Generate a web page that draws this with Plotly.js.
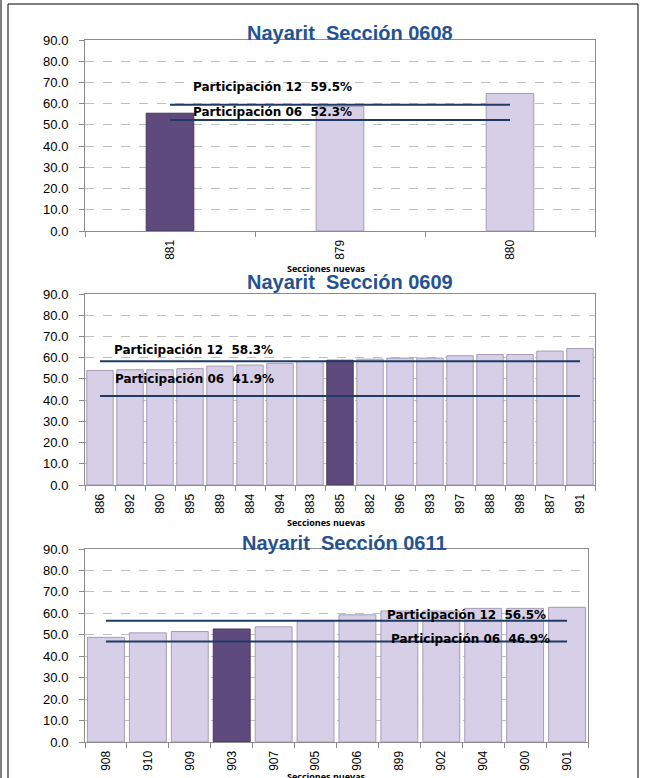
<!DOCTYPE html>
<html>
<head>
<meta charset="utf-8">
<script src="https://cdn.plot.ly/plotly-3.0.1.min.js"></script>
<style>
  html, body { margin: 0; padding: 0; background: #ffffff; }
  #chart { width: 646px; height: 778px; }
</style>
</head>
<body>
<div id="chart"></div>
<script>
// ---------- DATA ----------
const titles = ['Nayarit  Sección 0608', 'Nayarit  Sección 0609', 'Nayarit  Sección 0611'];
const xAxisTitle = 'Secciones nuevas';

const cats0608 = ['881', '879', '880'];
const vals0608 = [55.5, 58.7, 64.8];
const highlight0608 = '881';
const part12_0608 = 59.5;
const part06_0608 = 52.3;

const cats0609 = ['886', '892', '890', '895', '889', '884', '894', '883', '885', '882', '896', '893', '897', '888', '898', '887', '891'];
const vals0609 = [54.0, 54.3, 54.3, 54.8, 56.0, 56.5, 57.3, 58.2, 58.8, 59.3, 59.8, 59.8, 60.9, 61.5, 61.5, 63.1, 64.3];
const highlight0609 = '885';
const part12_0609 = 58.3;
const part06_0609 = 41.9;

const cats0611 = ['908', '910', '909', '903', '907', '905', '906', '899', '902', '904', '900', '901'];
const vals0611 = [48.8, 50.9, 51.5, 52.7, 53.7, 56.4, 59.3, 61.1, 61.1, 62.3, 62.3, 62.8];
const highlight0611 = '903';
const part12_0611 = 56.5;
const part06_0611 = 46.9;

const yTickVals = [0, 10, 20, 30, 40, 50, 60, 70, 80, 90];

// ---------- LAYOUT HELPERS (pixel -> paper) ----------
const W = 646, H = 778;
const fx = x => x / W;
const fy = y => 1 - y / H;

const charts = [
  { cats: cats0608, vals: vals0608, hi: highlight0608, p12: part12_0608, p06: part06_0608,
    box: { l: 85, r: 595, t: 40, b: 231 }, gap: 0.72,
    titleXY: [350, 33], axTitleXY: [326, 268],
    lab12: [191, 87], lab06: [191, 112] },
  { cats: cats0609, vals: vals0609, hi: highlight0609, p12: part12_0609, p06: part06_0609,
    box: { l: 85, r: 595, t: 294, b: 485 }, gap: 0.12,
    titleXY: [350, 282], axTitleXY: [326, 522],
    lab12: [112, 350], lab06: [113, 379] },
  { cats: cats0611, vals: vals0611, hi: highlight0611, p12: part12_0611, p06: part06_0611,
    box: { l: 85, r: 588, t: 549, b: 742 }, gap: 0.12,
    titleXY: [345, 543], axTitleXY: [326, 776],
    lab12: [385, 615], lab06: [389, 639] }
];

const LIGHT = '#D7CFE7';
const DARK = '#5F4A7D';
const LINE = '#1F3A64';
const LABEL_FONT = 'DejaVu Sans, Open Sans, sans-serif';

const traces = [];
const layout = {
  width: W, height: H,
  margin: { l: 0, r: 0, t: 0, b: 0 },
  paper_bgcolor: '#ffffff',
  plot_bgcolor: '#ffffff',
  showlegend: false,
  font: { family: 'Liberation Sans, Arial, sans-serif', size: 11, color: '#000000' },
  annotations: [],
  shapes: [
    { type: 'line', xref: 'paper', yref: 'paper', x0: fx(1), x1: fx(1), y0: -0.01, y1: 1.01,
      line: { color: '#000000', width: 1 } },
    { type: 'rect', xref: 'paper', yref: 'paper', x0: fx(8), x1: fx(638), y0: -0.01, y1: fy(4),
      line: { color: '#000000', width: 1 } }
  ]
};

charts.forEach((c, i) => {
  const n = i + 1;
  const xa = 'x' + (n === 1 ? '' : n);
  const ya = 'y' + (n === 1 ? '' : n);
  const xKey = 'xaxis' + (n === 1 ? '' : n);
  const yKey = 'yaxis' + (n === 1 ? '' : n);

  traces.push({
    type: 'bar', x: c.cats, y: c.vals, xaxis: xa, yaxis: ya,
    width: 1 - c.gap,
    marker: {
      color: c.cats.map(k => k === c.hi ? DARK : LIGHT),
      line: { color: c.cats.map(k => k === c.hi ? '#46375E' : '#A59DB6'), width: 1 }
    },
    hoverinfo: 'x+y'
  });
  const first = c.cats[0], last = c.cats[c.cats.length - 1];
  traces.push({ type: 'scatter', mode: 'lines', x: [first, last], y: [c.p12, c.p12],
    xaxis: xa, yaxis: ya, line: { color: LINE, width: 2 }, hoverinfo: 'skip' });
  traces.push({ type: 'scatter', mode: 'lines', x: [first, last], y: [c.p06, c.p06],
    xaxis: xa, yaxis: ya, line: { color: LINE, width: 2 }, hoverinfo: 'skip' });

  layout[xKey] = {
    domain: [fx(c.box.l), fx(c.box.r)],
    anchor: ya,
    type: 'category',
    categoryorder: 'array', categoryarray: c.cats,
    showgrid: false,
    showline: true, linecolor: '#8C8C8C', linewidth: 1, mirror: true,
    ticks: 'outside', tickson: 'boundaries', ticklen: 5, tickcolor: '#8C8C8C',
    tickangle: -90, ticklabelstandoff: 3,
    tickfont: { family: 'Liberation Sans, Arial, sans-serif', size: 12, color: '#000000' },
    fixedrange: true
  };
  layout[yKey] = {
    domain: [fy(c.box.b), fy(c.box.t)],
    anchor: xa,
    range: [0, 90],
    tickvals: yTickVals,
    tickformat: '.1f',
    showgrid: true, gridcolor: '#BFBFBF', griddash: 'dash', gridwidth: 1,
    zeroline: false,
    showline: true, linecolor: '#8C8C8C', linewidth: 1, mirror: true,
    ticks: 'outside', ticklen: 5, tickcolor: '#8C8C8C', ticklabelstandoff: 8,
    tickfont: { family: 'Liberation Sans, Arial, sans-serif', size: 13, color: '#000000' },
    fixedrange: true
  };

  // chart title
  layout.annotations.push({
    xref: 'paper', yref: 'paper', x: fx(c.titleXY[0]), y: fy(c.titleXY[1]),
    xanchor: 'center', yanchor: 'middle', showarrow: false,
    text: '<b>' + titles[i] + '</b>',
    font: { family: 'Liberation Sans Narrow, Arial Narrow, Liberation Sans, Arial, sans-serif', size: 20, color: '#255290' }
  });
  // x axis title
  layout.annotations.push({
    xref: 'paper', yref: 'paper', x: fx(c.axTitleXY[0]), y: fy(c.axTitleXY[1]),
    xanchor: 'center', yanchor: 'middle', showarrow: false,
    text: '<b>' + xAxisTitle + '</b>',
    font: { family: 'Open Sans, Liberation Sans, sans-serif', size: 9, color: '#000000' }
  });
  // participation labels
  layout.annotations.push({
    xref: 'paper', yref: 'paper', x: fx(c.lab12[0]), y: fy(c.lab12[1]),
    xanchor: 'left', yanchor: 'middle', showarrow: false,
    text: '<b>Participación 12  ' + c.p12.toFixed(1) + '%</b>',
    font: { family: LABEL_FONT, size: 12, color: '#000000' }
  });
  layout.annotations.push({
    xref: 'paper', yref: 'paper', x: fx(c.lab06[0]), y: fy(c.lab06[1]),
    xanchor: 'left', yanchor: 'middle', showarrow: false,
    text: '<b>Participación 06  ' + c.p06.toFixed(1) + '%</b>',
    font: { family: LABEL_FONT, size: 12, color: '#000000' }
  });
});

Plotly.newPlot('chart', traces, layout, { displayModeBar: false, staticPlot: true });
</script>
</body>
</html>
